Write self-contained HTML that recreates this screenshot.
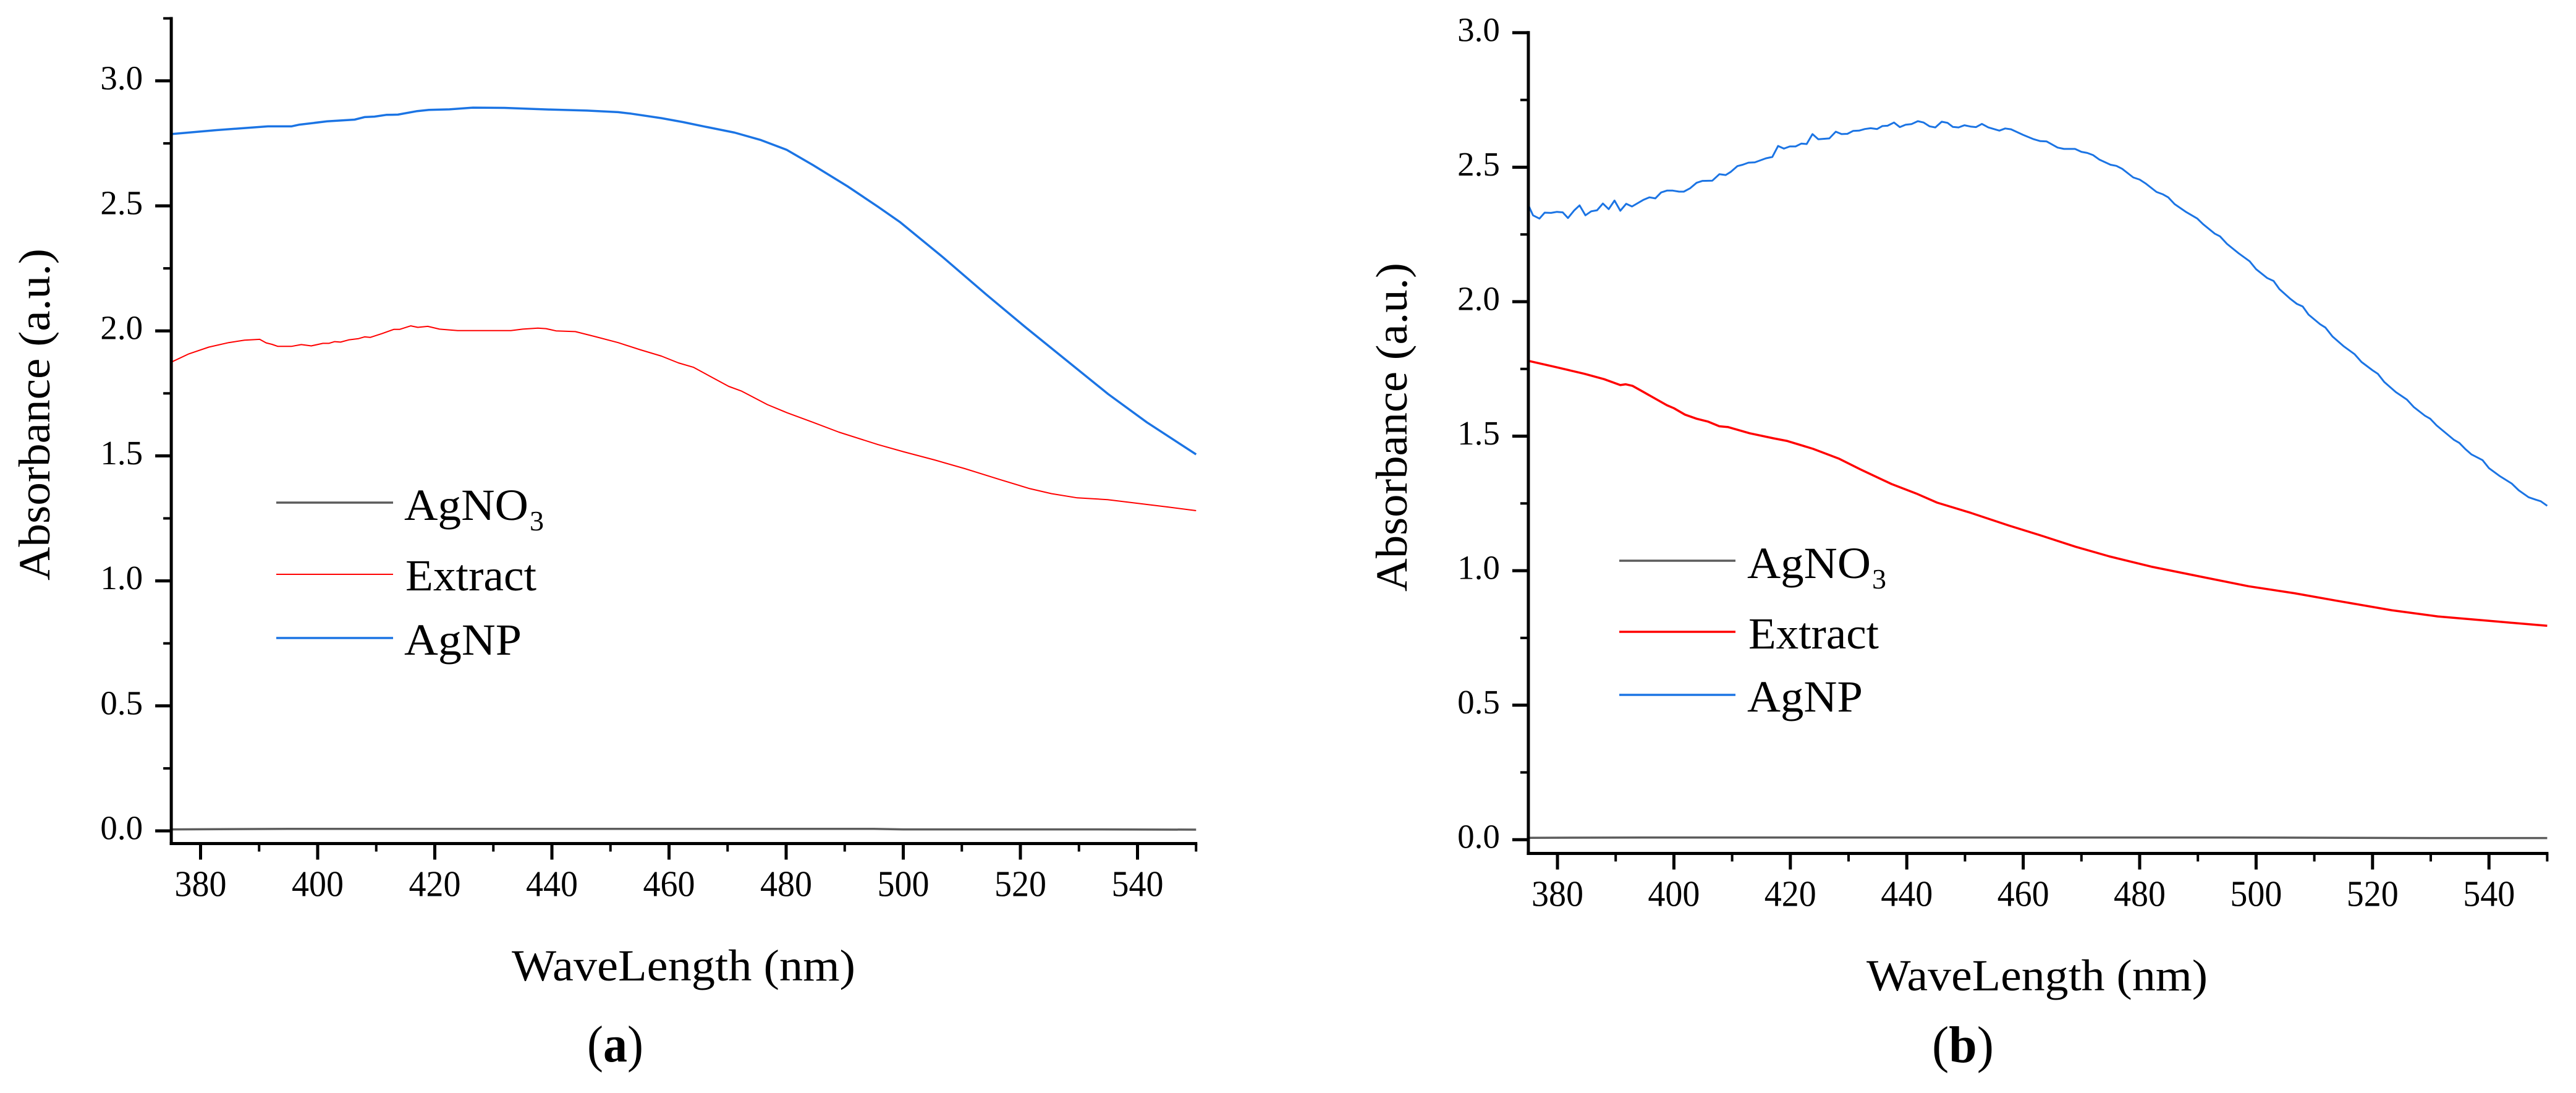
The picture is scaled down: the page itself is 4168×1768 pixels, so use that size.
<!DOCTYPE html>
<html lang="en">
<head>
<meta charset="utf-8">
<title>Absorbance spectra of AgNO3, Extract and AgNP</title>
<style>
html,body{margin:0;padding:0;background:#fff;}
svg{display:block;}
text{font-family:"Liberation Serif",serif;fill:#000;}
</style>
</head>
<body>
<svg id="chart" xmlns="http://www.w3.org/2000/svg" width="4168" height="1768" viewBox="0 0 4168 1768">
  <rect x="0" y="0" width="4168" height="1768" fill="#fff"/>

  <g id="panel-a"></g>
  <g id="panel-b"></g>

  <!-- Panel a titles -->
  <text transform="translate(80,939) rotate(-90)" font-size="72" textLength="537" lengthAdjust="spacingAndGlyphs">Absorbance (a.u.)</text>
  <text x="828" y="1586" font-size="72" textLength="556" lengthAdjust="spacingAndGlyphs">WaveLength (nm)</text>
  <text x="950" y="1717" font-size="84" textLength="91" lengthAdjust="spacingAndGlyphs">(<tspan font-weight="bold">a</tspan>)</text>

  <!-- Panel a legend -->
  <g>
    <line x1="447" x2="636" y1="813" y2="813" stroke="#5c5c5c" stroke-width="3.5"/>
    <text x="654" y="841" font-size="72" textLength="201" lengthAdjust="spacingAndGlyphs">AgNO</text>
    <text x="857" y="858" font-size="46">3</text>
    <line x1="447" x2="636" y1="929" y2="929" stroke="#ff0000" stroke-width="2"/>
    <text x="656" y="955" font-size="72" textLength="212" lengthAdjust="spacingAndGlyphs">Extract</text>
    <line x1="447" x2="636" y1="1032" y2="1032" stroke="#1b74e4" stroke-width="3.5"/>
    <text x="654" y="1059" font-size="72" textLength="190" lengthAdjust="spacingAndGlyphs">AgNP</text>
  </g>

  <!-- Panel b titles -->
  <text transform="translate(2276,957) rotate(-90)" font-size="72" textLength="532" lengthAdjust="spacingAndGlyphs">Absorbance (a.u.)</text>
  <text x="3020" y="1602" font-size="72" textLength="552" lengthAdjust="spacingAndGlyphs">WaveLength (nm)</text>
  <text x="3126" y="1718" font-size="84" textLength="100" lengthAdjust="spacingAndGlyphs">(<tspan font-weight="bold">b</tspan>)</text>

  <!-- Panel b legend -->
  <g>
    <line x1="2620" x2="2808" y1="907" y2="907" stroke="#5c5c5c" stroke-width="3.5"/>
    <text x="2827" y="935" font-size="72" textLength="200" lengthAdjust="spacingAndGlyphs">AgNO</text>
    <text x="3029" y="952" font-size="46">3</text>
    <line x1="2620" x2="2808" y1="1022" y2="1022" stroke="#ff0000" stroke-width="3.5"/>
    <text x="2829" y="1049" font-size="72" textLength="211" lengthAdjust="spacingAndGlyphs">Extract</text>
    <line x1="2620" x2="2808" y1="1124" y2="1124" stroke="#1b74e4" stroke-width="3.5"/>
    <text x="2827" y="1151" font-size="72" textLength="187" lengthAdjust="spacingAndGlyphs">AgNP</text>
  </g>
</svg>

<script>
// Tick values
const xMajorTicks = [380,400,420,440,460,480,500,520,540];
const xMinorTicks = [390,410,430,450,470,490,510,530,550];
const yMajorTicks = [0,0.5,1,1.5,2,2.5,3];
const yMinorTicksA = [0.25,0.75,1.25,1.75,2.25,2.75,3.25];
const yMinorTicksB = [0.25,0.75,1.25,1.75,2.25,2.75];
const yTickLabels = ['0.0','0.5','1.0','1.5','2.0','2.5','3.0'];

// Panel a series
const aAgno3Wl = [375,395,440,495,500,530,550];
const aAgno3Abs = [0.006,0.008,0.008,0.008,0.006,0.006,0.005];
const aExtractWl = [375,378,381.4,384.8,387.5,390.1,391.2,392.2,393.2,395.5,397.2,398.9,400.9,401.9,402.9,403.9,405.3,407,408,409,411,413,414,415.9,417.1,418.8,420.8,423.9,433,435,437.6,439,440.7,444,447.4,451.3,455,458.7,461.6,464.2,466.8,470.2,472.4,476.8,480.1,484.6,489,495.7,500.1,505.3,510.5,516.4,521.6,525.3,529.7,534.9,540.1,545.3,550];
const aExtractAbs = [1.875,1.908,1.935,1.953,1.963,1.966,1.952,1.946,1.938,1.938,1.945,1.940,1.950,1.950,1.957,1.955,1.964,1.969,1.976,1.974,1.989,2.006,2.006,2.020,2.014,2.018,2.007,2.001,2.001,2.007,2.011,2.009,2.000,1.997,1.977,1.953,1.925,1.899,1.872,1.854,1.821,1.778,1.759,1.705,1.673,1.634,1.595,1.545,1.516,1.484,1.449,1.406,1.369,1.349,1.332,1.325,1.310,1.295,1.281];
const aAgnpWl = [375,382.7,391.5,395.5,396.9,401.6,406.3,408,409.7,411.7,413.7,417,419,422.5,426.5,431.9,440,446,451.3,453.5,458.7,462.4,466.1,471.2,475.7,480.1,484.6,490.5,495.7,499.4,506.8,514.2,520.9,527.5,535,541.6,550];
const aAgnpAbs = [2.787,2.803,2.818,2.818,2.825,2.838,2.845,2.855,2.857,2.864,2.865,2.879,2.884,2.886,2.893,2.892,2.885,2.881,2.875,2.869,2.851,2.835,2.817,2.793,2.763,2.724,2.663,2.578,2.496,2.436,2.294,2.145,2.014,1.889,1.747,1.634,1.506];

// Panel b series
const bAgno3Wl = [375,395,440,495,530,550];
const bAgno3Abs = [0.007,0.008,0.008,0.008,0.006,0.006];
const bExtractWl = [375,379.9,384.6,388,390.8,391.7,392.9,394.8,398.8,400,401.9,403.9,405.9,407.8,409.3,413,417.1,419.5,423.9,428.3,432,437.4,441.6,445.2,451,457.5,463.3,469,474.8,482,489.3,498.7,506.6,513.9,523.3,531.2,541.3,550];
const bExtractAbs = [1.780,1.756,1.732,1.712,1.690,1.693,1.687,1.664,1.615,1.604,1.580,1.565,1.554,1.537,1.534,1.511,1.492,1.482,1.453,1.417,1.377,1.322,1.287,1.253,1.215,1.168,1.129,1.089,1.053,1.015,0.983,0.942,0.916,0.888,0.853,0.830,0.811,0.795];
const bAgnpWl = [375,375.8,376.9,377.8,378.9,379.9,380.9,381.8,382.9,383.8,384.8,385.8,386.8,387.8,388.8,389.8,390.8,391.8,392.8,394.8,395.8,396.8,397.8,398.8,399.8,400.9,401.7,402.8,403.9,404.9,406.6,407.8,408.9,409.8,410.9,411.8,412.8,413.9,415.8,416.9,417.9,418.9,419.9,420.9,421.9,422.8,423.8,424.8,426.7,427.8,428.8,429.8,430.8,431.8,432.8,433.8,434.9,435.8,436.7,437.8,438.8,439.8,440.8,441.9,442.9,443.9,444.9,446,447,447.9,448.9,449.9,450.96,451.9,452.9,454,455.9,456.9,457.9,460,461.8,462.9,464,465.9,467,468.9,470,471,472,473.1,475,476,477,478.9,480,481,482.9,484,484.9,486,488,489.9,490.9,492.9,493.8,495,497,498.9,500,501.9,503,504,505.9,507,508,509,511,511.9,513.1,515,516.9,518.1,520,520.9,522,524,525.9,527.1,529,529.9,531,534,534.9,536,537,538.9,540,541.9,543.9,545.1,546.8,548,548.9,550];
const bAgnpAbs = [2.359,2.321,2.309,2.331,2.330,2.334,2.332,2.311,2.340,2.358,2.321,2.336,2.340,2.365,2.344,2.376,2.338,2.364,2.354,2.379,2.388,2.384,2.406,2.413,2.413,2.409,2.409,2.422,2.442,2.449,2.450,2.474,2.471,2.483,2.504,2.509,2.517,2.518,2.533,2.538,2.579,2.569,2.577,2.577,2.588,2.586,2.623,2.604,2.607,2.632,2.623,2.624,2.635,2.636,2.642,2.645,2.642,2.653,2.654,2.666,2.649,2.658,2.660,2.671,2.666,2.652,2.648,2.669,2.665,2.650,2.648,2.656,2.651,2.649,2.661,2.648,2.636,2.644,2.641,2.620,2.604,2.597,2.596,2.573,2.568,2.568,2.557,2.553,2.545,2.528,2.509,2.505,2.494,2.462,2.454,2.440,2.408,2.399,2.388,2.363,2.333,2.309,2.288,2.253,2.243,2.215,2.180,2.150,2.121,2.088,2.077,2.047,2.010,1.992,1.982,1.952,1.916,1.904,1.871,1.835,1.805,1.776,1.745,1.732,1.702,1.664,1.636,1.608,1.576,1.565,1.540,1.486,1.475,1.451,1.432,1.411,1.381,1.351,1.324,1.299,1.273,1.264,1.258,1.241];

const SVGNS = 'http://www.w3.org/2000/svg';

function mk(parent, tag, attrs) {
  const el = document.createElementNS(SVGNS, tag);
  for (const k in attrs) el.setAttribute(k, attrs[k]);
  parent.appendChild(el);
  return el;
}

function drawPanel(root, layout, minorY, series) {
  const xAt = w => layout.x380 + (w - 380) * layout.pxPerNm;
  const yAt = v => layout.y0 - v * layout.pxPerAbs;
  const left = xAt(375);
  const right = xAt(550);

  // series first so the axes overlap them, as in the figure
  series.forEach(s => {
    const pts = s.wl.map((w, i) => xAt(w).toFixed(1) + ',' + yAt(s.abs[i]).toFixed(1)).join(' ');
    const line = mk(root, 'polyline', {points: pts, fill: 'none', stroke: s.color, 'stroke-width': s.width, 'stroke-linejoin': 'round'});
    
    
  });

  const yAxis = mk(root, 'line', {x1: left, x2: left, y1: layout.top, y2: layout.bottom + 2.5, stroke: '#000', 'stroke-width': 5});
  
  
  const xAxis = mk(root, 'line', {x1: left - 2.5, x2: right + 2, y1: layout.bottom, y2: layout.bottom, stroke: '#000', 'stroke-width': 5});
  
  

  xMajorTicks.forEach(w => {
    const t = mk(root, 'line', {x1: xAt(w), x2: xAt(w), y1: layout.bottom, y2: layout.bottom + 26, stroke: '#000', 'stroke-width': 5});
    
    
    const label = mk(root, 'text', {x: xAt(w) - 42, y: layout.bottom + layout.xLabelOffset, 'font-size': 59, textLength: 84, lengthAdjust: 'spacingAndGlyphs'});
    
    
    label.textContent = String(w);
  });
  xMinorTicks.forEach(w => {
    const t = mk(root, 'line', {x1: xAt(w), x2: xAt(w), y1: layout.bottom, y2: layout.bottom + 13, stroke: '#000', 'stroke-width': 4});
    
    
  });
  yMajorTicks.forEach((v, i) => {
    const t = mk(root, 'line', {x1: left - 26, x2: left, y1: yAt(v), y2: yAt(v), stroke: '#000', 'stroke-width': 5});
    
    
    const label = mk(root, 'text', {x: left - 46, y: yAt(v) + 13.5, 'font-size': 55, 'text-anchor': 'end'});
    
    
    label.textContent = yTickLabels[i];
  });
  minorY.forEach(v => {
    const t = mk(root, 'line', {x1: left - 13, x2: left, y1: yAt(v), y2: yAt(v), stroke: '#000', 'stroke-width': 4});
    
    
  });
}

drawPanel(document.getElementById('panel-a'),
  {x380: 324.5, pxPerNm: 9.475, y0: 1344, pxPerAbs: 404.4, top: 27.5, bottom: 1364.5, xLabelOffset: 85},
  yMinorTicksA,
  [
    {name: 'series-agno3-a', wl: aAgno3Wl, abs: aAgno3Abs, color: '#5c5c5c', width: 3.5},
    {name: 'series-extract-a', wl: aExtractWl, abs: aExtractAbs, color: '#ff0000', width: 2},
    {name: 'series-agnp-a', wl: aAgnpWl, abs: aAgnpAbs, color: '#1b74e4', width: 3.5}
  ]);

drawPanel(document.getElementById('panel-b'),
  {x380: 2520, pxPerNm: 9.42, y0: 1358.2, pxPerAbs: 435.1, top: 50.3, bottom: 1380.5, xLabelOffset: 85},
  yMinorTicksB,
  [
    {name: 'series-agno3-b', wl: bAgno3Wl, abs: bAgno3Abs, color: '#5c5c5c', width: 3.5},
    {name: 'series-extract-b', wl: bExtractWl, abs: bExtractAbs, color: '#ff0000', width: 3.5},
    {name: 'series-agnp-b', wl: bAgnpWl, abs: bAgnpAbs, color: '#1b74e4', width: 3}
  ]);
</script>
</body>
</html>
